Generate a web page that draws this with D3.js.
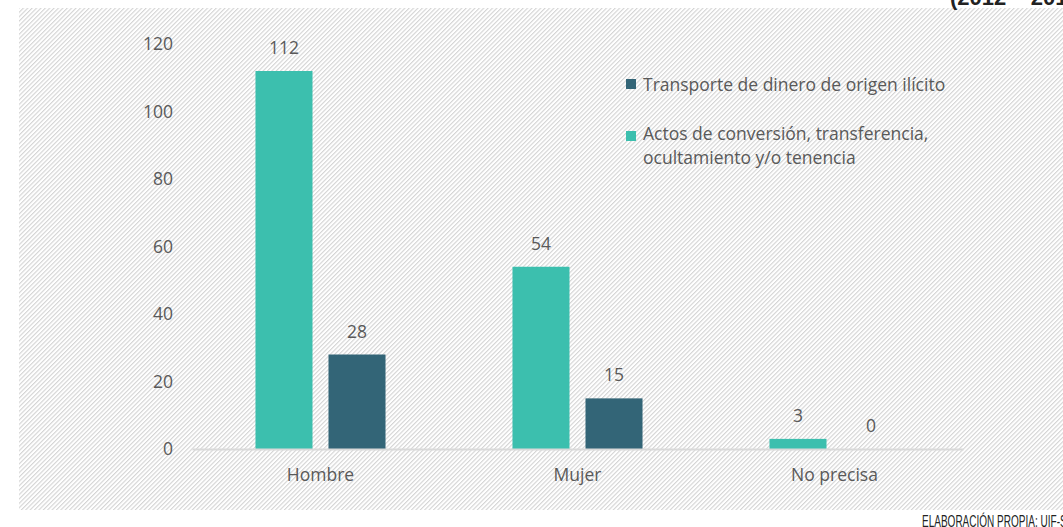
<!DOCTYPE html>
<html><head><meta charset="utf-8">
<script src="https://cdn.jsdelivr.net/npm/d3@7"></script>
<style>html,body{margin:0;padding:0;background:#fff;overflow:hidden}</style>
</head><body>
<svg id="c" width="1063" height="527"></svg>
<script>
const categories = ["Hombre", "Mujer", "No precisa"];
const seriesNames = ["Actos de conversión, transferencia, ocultamiento y/o tenencia", "Transporte de dinero de origen ilícito"];
const actosValues = [112, 54, 3];
const transporteValues = [28, 15, 0];
const yTicks = [0, 20, 40, 60, 80, 100, 120];
const titleText = "(2012 – 2017)";
const sourceText = "ELABORACIÓN PROPIA: UIF-SBS";

const colors = ["#3cbfae", "#336577"];
const svg = d3.select("#c");
const defs = svg.append("defs");
const pat = defs.append("pattern").attr("id","hatch").attr("patternUnits","userSpaceOnUse")
  .attr("width",3.1).attr("height",10).attr("patternTransform","rotate(45)");
pat.append("rect").attr("width",3.1).attr("height",10).attr("fill","#fff");
pat.append("line").attr("x1",0.6).attr("y1",0).attr("x2",0.6).attr("y2",10).attr("stroke","#cacaca").attr("stroke-width",0.9);

svg.append("rect").attr("x",19).attr("y",8).attr("width",1063-19).attr("height",502).attr("fill","url(#hatch)");

const font = "'Open Sans', sans-serif";
const fs = 17.5;
const textCol = "#595959";

const y = d3.scaleLinear().domain([0,120]).range([449,44]);
const x0 = d3.scaleBand().domain(categories).range([192,963]).paddingInner(0.494).paddingOuter(0.247);
const x1 = d3.scaleBand().domain([0,1]).range([0,x0.bandwidth()]).paddingInner(0.219).paddingOuter(0);

const data = categories.map((c,i)=>({cat:c, vals:[actosValues[i], transporteValues[i]]}));

// y axis labels
const yAxis = d3.axisLeft(y).tickValues(yTicks).tickSize(0).tickPadding(0);
const yg = svg.append("g").attr("transform","translate(173,0)").call(yAxis);
yg.select(".domain").remove();
yg.selectAll("text").attr("font-family",font).attr("font-size",fs).attr("fill",textCol);

// bars
const groups = svg.append("g").selectAll("g").data(data).join("g")
  .attr("transform",d=>`translate(${x0(d.cat)},0)`);
groups.selectAll("rect").data(d=>d.vals.map((v,k)=>({v,k}))).join("rect")
  .attr("x",d=>x1(d.k)).attr("width",x1.bandwidth())
  .attr("y",d=>y(d.v)).attr("height",d=>y(0)-y(d.v)).attr("fill",d=>colors[d.k]);
groups.selectAll("text").data(d=>d.vals.map((v,k)=>({v,k}))).join("text")
  .attr("x",d=>x1(d.k)+x1.bandwidth()/2).attr("y",d=>y(d.v)-17)
  .attr("text-anchor","middle").attr("font-family",font).attr("font-size",fs).attr("fill",textCol)
  .text(d=>d.v);

// x axis
const xAxis = d3.axisBottom(x0).tickSize(0).tickPadding(0);
const xg = svg.append("g").attr("transform",`translate(0,${y(0)})`).call(xAxis);
xg.select(".domain").attr("stroke","#d9d9d9").attr("stroke-width",2);
xg.selectAll("text").attr("font-family",font).attr("font-size",fs).attr("fill",textCol).attr("dy",null).attr("y",32);

// legend
const leg = svg.append("g").attr("font-family",font).attr("font-size",fs).attr("fill",textCol);
leg.append("rect").attr("x",626).attr("y",79).attr("width",10).attr("height",10).attr("fill",colors[1]);
leg.append("text").attr("x",643).attr("y",91).text(seriesNames[1]);
leg.append("rect").attr("x",626).attr("y",131).attr("width",10).attr("height",10).attr("fill",colors[0]);
leg.append("text").attr("x",643).attr("y",140).text("Actos de conversión, transferencia,");
leg.append("text").attr("x",643).attr("y",164).text("ocultamiento y/o tenencia");

// title (clipped at top) & source
svg.append("text").attr("x",950).attr("y",5).attr("font-family","'Liberation Sans Narrow','Liberation Sans',sans-serif")
  .attr("font-weight","bold").attr("font-size",22).attr("fill","#222").text(titleText);
svg.append("text").attr("x",922).attr("y",527).attr("font-family","'Liberation Sans Narrow','Liberation Sans',sans-serif")
  .attr("font-size",16).attr("fill","#222")
  .attr("textLength",158).attr("lengthAdjust","spacingAndGlyphs").text(sourceText);
</script>
</body></html>
